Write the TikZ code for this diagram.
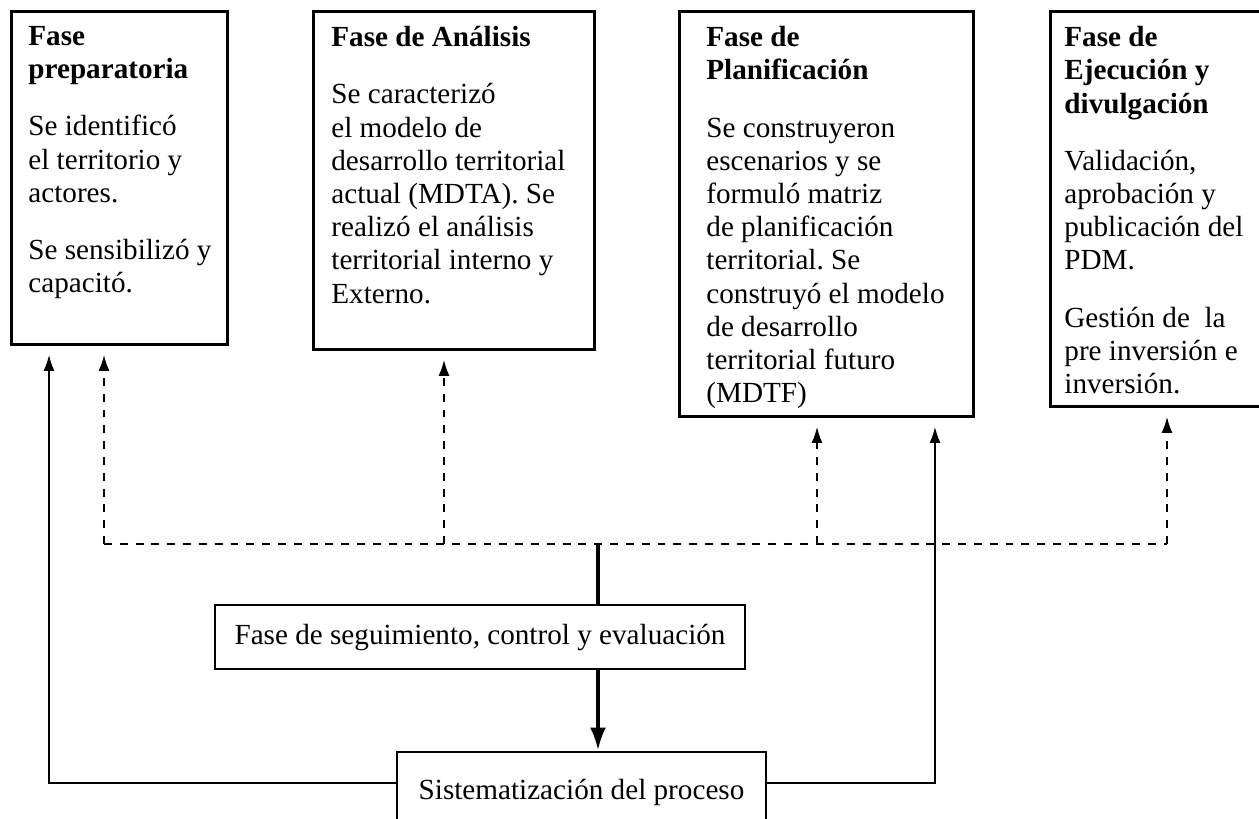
\documentclass[tikz,border=0pt]{standalone}
\usepackage{fontspec}
\setmainfont{Liberation Serif}
\frenchspacing
\usetikzlibrary{arrows.meta,positioning}

\tikzset{
  phase/.style={draw, line width=1.6pt, anchor=north west, inner xsep=0pt, inner ysep=0.3cm},
  stage/.style={draw, line width=1.6pt, inner sep=0pt},
  thinarrow/.style={line width=1.1pt, shorten >=0.18cm, -{Latex[length=0.32cm,width=0.22cm]}},
  dasharrow/.style={thinarrow, dash pattern=on 4.5pt off 4.5pt},
  dashline/.style={line width=1.1pt, dash pattern=on 4.5pt off 4.5pt},
  thickline/.style={line width=2.3pt},
}
% #1 alto, #2 margen, #3 ancho, #4 texto
\newcommand{\phasetext}[4]{\hspace*{#2}\parbox[c][#1][t]{#3}{\raggedright #4}}

\begin{document}
\begin{tikzpicture}[font=\fontsize{16.6}{18.9}\selectfont]
    % \draw[very thin,color=gray] (0,0) grid (25,-16);
    \useasboundingbox (0,0) rectangle (25.18,-16.36);
    %fases
    \node[phase] (prep) at (0.2,-0.2) {\phasetext{6.06cm}{0.34cm}{3.98cm}{%
      \textbf{Fase\\preparatoria}\\[0.48cm]
      Se identificó\\el territorio y\\actores.\\[0.48cm]
      Se sensibilizó y\\capacitó.}};
    \node[phase] (anal) at (6.24,-0.2) {\phasetext{6.16cm}{0.36cm}{5.26cm}{%
      \textbf{Fase de Análisis}\\[0.48cm]
      Se caracterizó\\el modelo de\\desarrollo territorial\\actual (MDTA). Se\\realizó el análisis\\territorial interno y\\Externo.}};
    \node[phase] (plan) at (13.56,-0.2) {\phasetext{7.5cm}{0.54cm}{5.34cm}{%
      \textbf{Fase de\\Planificación}\\[0.48cm]
      Se construyeron\\escenarios y se\\formuló matriz\\de planificación\\territorial. Se\\construyó el modelo\\de desarrollo\\territorial futuro\\(MDTF)}};
    \node[phase] (ejec) at (20.98,-0.2) {\phasetext{7.3cm}{0.28cm}{4.04cm}{%
      \textbf{Fase de\\Ejecución y\\divulgación}\\[0.48cm]
      Validación,\\aprobación y\\publicación del\\PDM.\\[0.48cm]
      Gestión de~~la\\pre inversión e\\inversión.}};
    %seguimiento y sistematizacion
    \node[stage, minimum width=10.6cm, minimum height=1.28cm] (segu) at (9.6,-12.74) {Fase de seguimiento, control y evaluación};
    \node[stage, minimum width=7.38cm, minimum height=1.6cm] (sist) at (11.63,-15.84) {Sistematización del proceso};
    %puntos
    \coordinate (hub) at (11.96,-10.88);
    \coordinate (d1) at (2.08,-10.88);
    \coordinate (d2) at (8.88,-10.88);
    \coordinate (d3) at (16.34,-10.88);
    \coordinate (d4) at (23.34,-10.88);
    \coordinate (s1) at (0.98,-15.66);
    \coordinate (s2) at (18.7,-15.66);
    %flechas
    \draw[dashline] (d1) -- (d4);
    \draw[dasharrow] (d1) -- (d1 |- prep.south);
    \draw[dasharrow] (d2) -- (d2 |- anal.south);
    \draw[dasharrow] (d3) -- (d3 |- plan.south);
    \draw[dasharrow] (d4) -- (d4 |- ejec.south);
    \draw[thickline] (hub) -- (hub |- segu.north);
    \draw[thickline, -{Latex[length=0.46cm,width=0.32cm]}] (hub |- segu.south) -- (hub |- sist.north);
    \draw[thinarrow] (sist.west |- s1) -- (s1) -- (s1 |- prep.south);
    \draw[thinarrow] (sist.east |- s2) -- (s2) -- (s2 |- plan.south);
\end{tikzpicture}
\end{document}
